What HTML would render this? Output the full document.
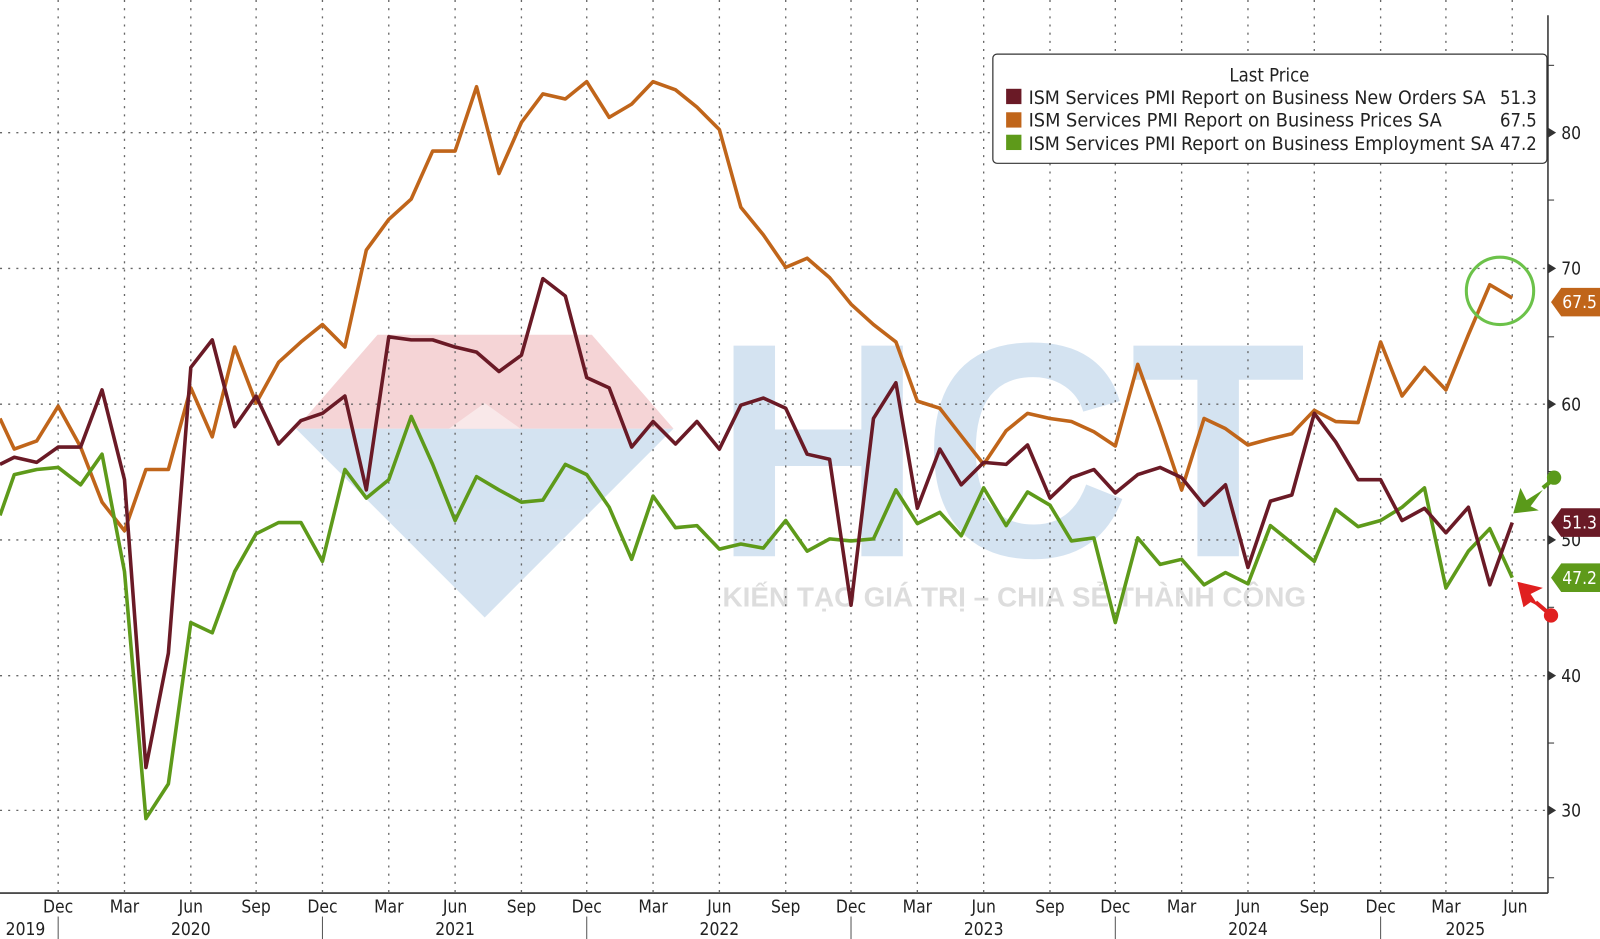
<!DOCTYPE html>
<html><head><meta charset="utf-8"><style>
html,body{margin:0;padding:0;background:#fff;}
svg{display:block;font-family:"DejaVu Sans Condensed","Liberation Sans",sans-serif;}
</style></head><body>
<svg width="1600" height="939" viewBox="0 0 1568 920" preserveAspectRatio="none" xmlns="http://www.w3.org/2000/svg">
<rect width="1568" height="920" fill="#fff"/>
<!-- watermark -->
<g opacity="0.6">
<polygon points="290,420 475,605 660,420" fill="#b9d1e8"/>
<polygon points="370,328 580,328 660,420 290,420" fill="#efb8bb"/>
<polygon points="475,395 440,420 510,420" fill="#f6dadb"/>
<text x="700" y="545" font-family="Liberation Sans,sans-serif" font-weight="bold" font-size="300" fill="#b9d1e8" textLength="580" lengthAdjust="spacingAndGlyphs">HCT</text>
<text x="708" y="594" font-family="Liberation Sans,sans-serif" font-weight="bold" font-size="27" fill="#c8c8c8" textLength="572" lengthAdjust="spacingAndGlyphs">KIẾN TẠO GIÁ TRỊ – CHIA SẺ THÀNH CÔNG</text>
</g>
<!-- grid -->
<g stroke="#666" stroke-width="1.3" stroke-dasharray="2,6">
<line x1="0" y1="130" x2="1517" y2="130"/><line x1="0" y1="263" x2="1517" y2="263"/>
<line x1="0" y1="396" x2="1517" y2="396"/><line x1="0" y1="529" x2="1517" y2="529"/>
<line x1="0" y1="662" x2="1517" y2="662"/><line x1="0" y1="794" x2="1517" y2="794"/>
<line x1="57" y1="0" x2="57" y2="875"/><line x1="122" y1="0" x2="122" y2="875"/><line x1="187" y1="0" x2="187" y2="875"/><line x1="251" y1="0" x2="251" y2="875"/>
<line x1="316" y1="0" x2="316" y2="875"/><line x1="381" y1="0" x2="381" y2="875"/><line x1="446" y1="0" x2="446" y2="875"/><line x1="511" y1="0" x2="511" y2="875"/>
<line x1="575" y1="0" x2="575" y2="875"/><line x1="640" y1="0" x2="640" y2="875"/><line x1="705" y1="0" x2="705" y2="875"/><line x1="770" y1="0" x2="770" y2="875"/>
<line x1="834" y1="0" x2="834" y2="875"/><line x1="899" y1="0" x2="899" y2="875"/><line x1="964" y1="0" x2="964" y2="875"/><line x1="1029" y1="0" x2="1029" y2="875"/>
<line x1="1093" y1="0" x2="1093" y2="875"/><line x1="1158" y1="0" x2="1158" y2="875"/><line x1="1223" y1="0" x2="1223" y2="875"/><line x1="1288" y1="0" x2="1288" y2="875"/>
<line x1="1353" y1="0" x2="1353" y2="875"/><line x1="1417" y1="0" x2="1417" y2="875"/><line x1="1482" y1="0" x2="1482" y2="875"/>
</g>
<!-- axes -->
<line x1="1517" y1="15" x2="1517" y2="875" stroke="#333" stroke-width="1.5"/>
<line x1="0" y1="875" x2="1517" y2="875" stroke="#333" stroke-width="1.5"/>
<g fill="#333">
<polygon points="1517,125 1525,130 1517,135"/><polygon points="1517,258 1525,263 1517,268"/><polygon points="1517,391 1525,396 1517,401"/>
<polygon points="1517,524 1525,529 1517,534"/><polygon points="1517,657 1525,662 1517,667"/><polygon points="1517,789 1525,794 1517,799"/>
</g>
<g stroke="#333" stroke-width="1"><line x1="1517" y1="64" x2="1523" y2="64"/><line x1="1517" y1="196" x2="1523" y2="196"/><line x1="1517" y1="330" x2="1523" y2="330"/><line x1="1517" y1="462" x2="1523" y2="462"/><line x1="1517" y1="595" x2="1523" y2="595"/><line x1="1517" y1="728" x2="1523" y2="728"/><line x1="1517" y1="860" x2="1523" y2="860"/></g>
<g font-size="17" fill="#222">
<text x="1530" y="136">80</text><text x="1530" y="269">70</text><text x="1530" y="402">60</text><text x="1530" y="535">50</text><text x="1530" y="668">40</text><text x="1530" y="800">30</text>
</g>
<g font-size="17" fill="#222" text-anchor="middle">
<text x="57" y="894">Dec</text><text x="122" y="894">Mar</text><text x="187" y="894">Jun</text><text x="251" y="894">Sep</text>
<text x="316" y="894">Dec</text><text x="381" y="894">Mar</text><text x="446" y="894">Jun</text><text x="511" y="894">Sep</text>
<text x="575" y="894">Dec</text><text x="640" y="894">Mar</text><text x="705" y="894">Jun</text><text x="770" y="894">Sep</text>
<text x="834" y="894">Dec</text><text x="899" y="894">Mar</text><text x="964" y="894">Jun</text><text x="1029" y="894">Sep</text>
<text x="1093" y="894">Dec</text><text x="1158" y="894">Mar</text><text x="1223" y="894">Jun</text><text x="1288" y="894">Sep</text>
<text x="1353" y="894">Dec</text><text x="1417" y="894">Mar</text><text x="1485" y="894">Jun</text>
<text x="25" y="916">2019</text><text x="187" y="916">2020</text><text x="446" y="916">2021</text><text x="705" y="916">2022</text><text x="964" y="916">2023</text><text x="1223" y="916">2024</text><text x="1436" y="916">2025</text>
</g>
<g stroke="#555" stroke-width="1"><line x1="57" y1="898" x2="57" y2="920"/><line x1="316" y1="898" x2="316" y2="920"/><line x1="575" y1="898" x2="575" y2="920"/><line x1="834" y1="898" x2="834" y2="920"/><line x1="1093" y1="898" x2="1093" y2="920"/><line x1="1353" y1="898" x2="1353" y2="920"/></g>
<!-- series -->
<g fill="none" stroke-width="3.5" stroke-linejoin="round">
<polyline stroke="#c0651a" points="0,410 14,440 36,432 57,398 79,438 100,492 122,520 143,460 165,460 187,380 208,428 230,340 251,395 273,355 295,335 316,318 338,340 359,245 381,215 403,195 424,148 446,148 467,85 489,170 511,120 532,92 554,97 575,80 597,115 619,102 640,80 662,88 683,105 705,127 726,203 748,230 770,262 791,253 813,272 834,298 856,318 878,335 899,393 921,400 942,427 964,455 986,422 1007,405 1029,410 1050,413 1072,423 1093,437 1115,357 1137,418 1158,480 1180,410 1201,420 1223,436 1245,430 1266,425 1288,402 1309,413 1331,414 1353,335 1374,388 1396,360 1417,382 1439,328 1460,279 1482,292"/>
<polyline stroke="#5e9a1a" points="0,505 14,465 36,460 57,458 79,475 100,445 122,560 143,802 165,768 187,610 208,620 230,560 251,523 273,512 295,512 316,550 338,460 359,488 381,470 403,408 424,455 446,510 467,467 489,480 511,492 532,490 554,455 575,465 597,497 619,548 640,486 662,517 683,515 705,538 726,533 748,537 770,510 791,540 813,528 834,530 856,528 878,480 899,513 921,502 942,525 964,478 986,515 1007,482 1029,495 1050,530 1072,527 1093,610 1115,527 1137,553 1158,548 1180,573 1201,561 1223,572 1245,515 1266,532 1288,550 1309,499 1331,516 1353,510 1374,497 1396,478 1417,576 1439,540 1460,518 1482,566"/>
<polyline stroke="#6a1a26" points="0,455 14,448 36,453 57,438 79,438 100,382 122,470 143,752 165,640 187,360 208,333 230,418 251,388 273,435 295,412 316,405 338,388 359,480 381,330 403,333 424,333 446,340 467,345 489,364 511,348 532,273 554,290 575,370 597,380 619,438 640,413 662,435 683,413 705,440 726,397 748,390 770,400 791,445 813,450 834,593 856,410 878,375 899,498 921,440 942,475 964,453 986,455 1007,436 1029,488 1050,468 1072,460 1093,483 1115,465 1137,458 1158,468 1180,495 1201,475 1223,556 1245,491 1266,485 1288,405 1309,433 1331,470 1353,470 1374,510 1396,498 1417,522 1439,497 1460,573 1482,512"/>
</g>
<!-- annotations -->
<circle cx="1470" cy="285" r="33" fill="none" stroke="#6cc24a" stroke-width="3"/>
<g fill="#5a9a1a"><polygon points="1483,503 1490,478 1496,490 1512,480 1500,496 1508,500"/><circle cx="1523" cy="468" r="7"/><line x1="1512" y1="478" x2="1522" y2="470" stroke="#5a9a1a" stroke-width="4"/></g>
<g fill="#e02020"><polygon points="1487,570 1512,576 1500,582 1508,594 1500,590 1493,595"/><circle cx="1520" cy="603" r="7"/><line x1="1505" y1="590" x2="1518" y2="601" stroke="#e02020" stroke-width="4"/></g>
<!-- value tags -->
<polygon points="1520,296 1530,282 1568,282 1568,310 1530,310" fill="#c0651a"/><text x="1531" y="302" font-size="17" fill="#fff">67.5</text>
<polygon points="1520,512 1530,498 1568,498 1568,526 1530,526" fill="#6a1a26"/><text x="1531" y="518" font-size="17" fill="#fff">51.3</text>
<polygon points="1520,566 1530,552 1568,552 1568,580 1530,580" fill="#5e9a1a"/><text x="1531" y="572" font-size="17" fill="#fff">47.2</text>
<!-- legend -->
<rect x="973" y="53" width="543" height="107" rx="4" fill="#fff" stroke="#333" stroke-width="1.2"/>
<g font-size="18" fill="#222">
<text x="1244" y="80" text-anchor="middle">Last Price</text>
<rect x="986" y="87" width="15" height="15" fill="#6a1a26"/><rect x="986" y="110" width="15" height="15" fill="#c0651a"/><rect x="986" y="132" width="15" height="15" fill="#5e9a1a"/>
<text x="1008" y="102" textLength="448" lengthAdjust="spacingAndGlyphs">ISM Services PMI Report on Business New Orders SA</text>
<text x="1008" y="124" textLength="405" lengthAdjust="spacingAndGlyphs">ISM Services PMI Report on Business Prices SA</text>
<text x="1008" y="147" textLength="456" lengthAdjust="spacingAndGlyphs">ISM Services PMI Report on Business Employment SA</text>
<text x="1506" y="102" text-anchor="end">51.3</text><text x="1506" y="124" text-anchor="end">67.5</text><text x="1506" y="147" text-anchor="end">47.2</text>
</g>
</svg>
</body></html>
